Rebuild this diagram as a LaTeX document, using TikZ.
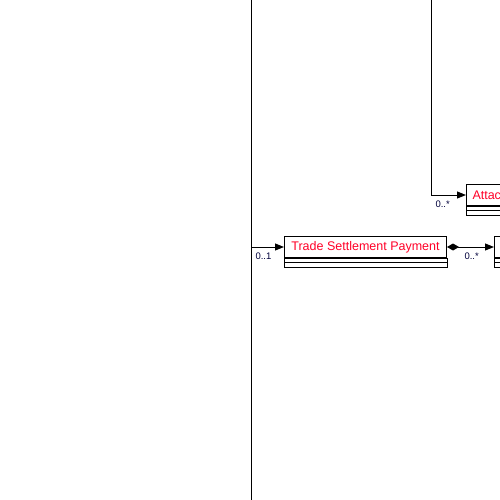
\documentclass[tikz,border=0pt]{standalone}
\usepackage{fontspec}
\setmainfont{Liberation Sans}
\usetikzlibrary{arrows.meta,positioning}
\definecolor{umlred}{RGB}{255,0,40}
\definecolor{multnavy}{RGB}{0,0,60}

\begin{document}
\begin{tikzpicture}[x=1pt, y=-1pt, line width=1pt,
   classname/.style={draw, rectangle, anchor=north west, inner sep=0pt, minimum height=21pt, text=umlred, font=\fontsize{12.5}{14}\selectfont},
   mult/.style={anchor=west, inner sep=0pt, text=multnavy, font=\fontsize{9.5}{10}\selectfont},
   assoc/.style={-{Triangle[length=9pt,width=7pt]}},
   compo/.style={{Diamond[length=12pt,width=7pt]}-{Triangle[length=9pt,width=7pt]}}]
   \useasboundingbox (0,0) rectangle (500,500);
   \fill[white] (0,0) rectangle (500,500);
   \clip (0,0) rectangle (500,500);
   % classes
   \node[classname, minimum width=162pt] (tsp) at (284,236) {Trade Settlement Payment};
   \node[classname, text width=100pt, inner xsep=6pt, align=left] (attac) at (466,184) {Attachment};
   \node[classname, minimum width=80pt] (right) at (494,236) {};
   \foreach \c in {tsp, attac, right} {
     \draw (\c.south west) rectangle ([yshift=-9pt]\c.south east);
     \draw ([yshift=-4pt]\c.south west) -- ([yshift=-4pt]\c.south east);
   }
   % connectors
   \coordinate (leftTop) at (251,0);
   \coordinate (leftBottom) at (251,500);
   \coordinate (upTop) at (431,0);
   \draw (leftTop) -- (leftBottom);
   \draw[assoc] (leftTop |- tsp.west) -- (tsp.west);
   \draw[assoc] (upTop) |- (attac.west);
   \draw[compo] (tsp.east) -- (right.west);
   % multiplicities
   \node[mult] (m1) at (255,256) {0..1};
   \node[mult] (m2) at (435,204) {0..*};
   \node[mult] (m3) at (464,256) {0..*};
\end{tikzpicture}
\end{document}
